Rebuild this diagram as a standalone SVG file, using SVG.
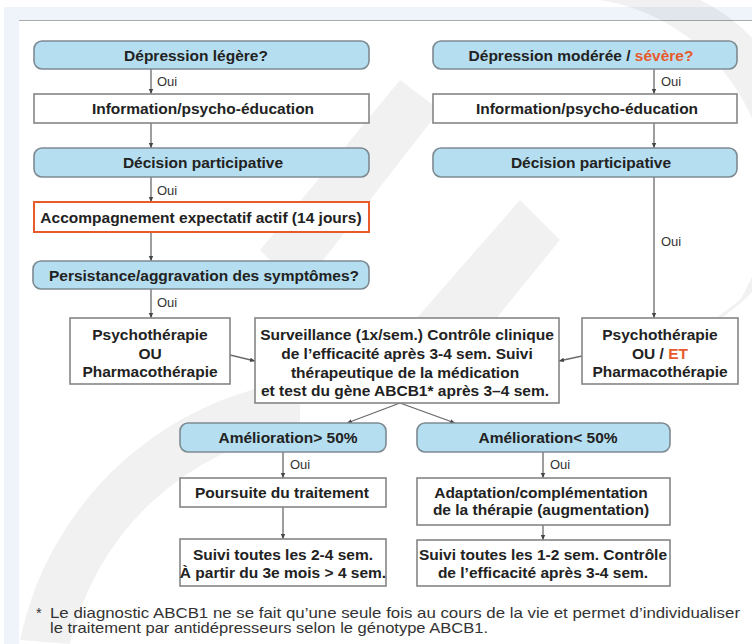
<svg xmlns="http://www.w3.org/2000/svg" width="752" height="644" viewBox="0 0 752 644">
<defs>
<style>
.blue{fill:#b5def0;stroke:#7d8a92;stroke-width:1.6}
.box{fill:#ffffff;stroke:#858585;stroke-width:1.6}
.orange{fill:#ffffff;stroke:#e8592b;stroke-width:2}
.t{font-family:"Liberation Sans",Arial,sans-serif;font-weight:bold;font-size:15.5px;fill:#222222;text-anchor:middle}
.oui{font-family:"Liberation Sans",Arial,sans-serif;font-size:13px;fill:#333333}
.fn{font-family:"Liberation Sans",Arial,sans-serif;font-size:14.5px;fill:#333333}
.ln{stroke:#6a6a6a;stroke-width:1.3;fill:none;marker-end:url(#ah)}
.or{fill:#e8592b}
.wm{fill:#000000;opacity:0.055}
</style>
<marker id="ah" markerWidth="6" markerHeight="6" refX="5" refY="3" orient="auto" markerUnits="userSpaceOnUse">
<path d="M0,0.8 L5,3 L0,5.2 Z" fill="#444444"/>
</marker>
</defs>
<rect x="0" y="0" width="752" height="644" fill="#ffffff"/>
<rect x="4" y="7" width="748" height="637" fill="#eef4f9"/>
<rect x="19" y="20" width="733" height="624" fill="#ffffff"/>
<line x1="19" y1="20.5" x2="752" y2="20.5" stroke="#a8acb0" stroke-width="1"/>

<g id="watermark">
<path class="wm" d="M540,0 L600,0 A200,200 0 0 1 740,300 L700,330 A160,160 0 0 0 540,0 Z"/>
<path class="wm" d="M380,360 L520,200 L560,240 L430,400 Z"/>
<path class="wm" d="M260,250 L400,80 L440,110 L300,290 Z"/>
<path class="wm" d="M20,640 A330,330 0 0 1 300,380 L300,430 A280,280 0 0 0 70,644 Z"/>
</g>

<g id="connectors">
<line class="ln" x1="151" y1="69" x2="151" y2="94"/>
<line class="ln" x1="151" y1="123" x2="151" y2="148"/>
<line class="ln" x1="151" y1="177" x2="151" y2="202"/>
<line class="ln" x1="151" y1="232" x2="151" y2="261"/>
<line class="ln" x1="151" y1="289" x2="151" y2="318"/>
<line class="ln" x1="654" y1="69" x2="654" y2="94"/>
<line class="ln" x1="654" y1="123" x2="654" y2="148"/>
<line class="ln" x1="654" y1="177" x2="654" y2="318"/>
<line class="ln" x1="230" y1="355" x2="255" y2="361"/>
<line class="ln" x1="582" y1="356" x2="559" y2="361"/>
<line class="ln" x1="400" y1="403" x2="347" y2="423"/>
<line class="ln" x1="400" y1="403" x2="455" y2="423"/>
<line class="ln" x1="283" y1="452" x2="283" y2="478"/>
<line class="ln" x1="283" y1="507" x2="283" y2="539"/>
<line class="ln" x1="543" y1="452" x2="543" y2="478"/>
<line class="ln" x1="543" y1="525" x2="543" y2="540"/>
<text class="oui" x="157" y="86">Oui</text>
<text class="oui" x="157" y="195">Oui</text>
<text class="oui" x="157" y="307">Oui</text>
<text class="oui" x="661" y="86">Oui</text>
<text class="oui" x="661" y="246">Oui</text>
<text class="oui" x="290" y="469">Oui</text>
<text class="oui" x="550" y="469">Oui</text>
</g>

<g id="n1"><rect class="blue" x="34" y="41" width="335" height="28" rx="8"/><text class="t" x="196" y="60.5">Dépression légère?</text></g>
<g id="n2"><rect class="box" x="34" y="94" width="335" height="29"/><text class="t" x="203" y="114">Information/psycho-éducation</text></g>
<g id="n3"><rect class="blue" x="34" y="148" width="335" height="29" rx="8"/><text class="t" x="203" y="168">Décision participative</text></g>
<g id="n4"><rect class="orange" x="34" y="202" width="335" height="30"/><text class="t" x="201" y="222.5">Accompagnement expectatif actif (14 jours)</text></g>
<g id="n5"><rect class="blue" x="33" y="261" width="336" height="28" rx="8"/><text class="t" x="204" y="280.5">Persistance/aggravation des symptômes?</text></g>
<g id="n6"><rect class="box" x="70" y="318" width="160" height="66"/>
<text class="t" x="150" y="340">Psychothérapie</text>
<text class="t" x="150" y="358.5">OU</text>
<text class="t" x="150" y="377">Pharmacothérapie</text></g>
<g id="n7"><rect class="box" x="255" y="318" width="304" height="85"/>
<text class="t" x="407" y="340">Surveillance (1x/sem.) Contrôle clinique</text>
<text class="t" x="407" y="359">de l’efficacité après 3-4 sem. Suivi</text>
<text class="t" x="405" y="377.5">thérapeutique de la médication</text>
<text class="t" x="405" y="396">et test du gène ABCB1* après 3–4 sem.</text></g>
<g id="n8"><rect class="box" x="582" y="318" width="156" height="66"/>
<text class="t" x="660" y="340">Psychothérapie</text>
<text class="t" x="660" y="358.5">OU / <tspan class="or">ET</tspan></text>
<text class="t" x="660" y="377">Pharmacothérapie</text></g>
<g id="n9"><rect class="blue" x="433" y="41" width="304" height="28" rx="8"/><text class="t" x="581" y="60.5">Dépression modérée / <tspan class="or">sévère?</tspan></text></g>
<g id="n10"><rect class="box" x="433" y="94" width="304" height="29"/><text class="t" x="587" y="114">Information/psycho-éducation</text></g>
<g id="n11"><rect class="blue" x="433" y="148" width="304" height="29" rx="8"/><text class="t" x="591" y="168">Décision participative</text></g>
<g id="n12"><rect class="blue" x="180" y="423" width="206" height="29" rx="8"/><text class="t" x="288" y="443">Amélioration&gt; 50%</text></g>
<g id="n13"><rect class="blue" x="417" y="423" width="253" height="29" rx="8"/><text class="t" x="548" y="443">Amélioration&lt; 50%</text></g>
<g id="n14"><rect class="box" x="180" y="478" width="206" height="29"/><text class="t" x="282" y="498">Poursuite du traitement</text></g>
<g id="n15"><rect class="box" x="180" y="539" width="206" height="47"/>
<text class="t" x="283" y="560">Suivi toutes les 2-4 sem.</text>
<text class="t" x="283" y="578">À partir du 3e mois &gt; 4 sem.</text></g>
<g id="n16"><rect class="box" x="417" y="478" width="253" height="47"/>
<text class="t" x="541" y="498">Adaptation/complémentation</text>
<text class="t" x="541" y="515">de la thérapie (augmentation)</text></g>
<g id="n17"><rect class="box" x="417" y="540" width="253" height="46"/>
<text class="t" x="543" y="560">Suivi toutes les 1-2 sem. Contrôle</text>
<text class="t" x="543" y="578">de l’efficacité après 3-4 sem.</text></g>

<g id="footnote">
<text class="fn" x="36" y="618">*</text>
<text class="fn" x="50" y="618" textLength="690" lengthAdjust="spacingAndGlyphs">Le  diagnostic ABCB1 ne se fait qu’une seule fois au cours de la vie et permet d’individualiser</text>
<text class="fn" x="50" y="633" textLength="438" lengthAdjust="spacingAndGlyphs">le traitement par antidépresseurs selon le génotype ABCB1.</text>
</g>
</svg>
